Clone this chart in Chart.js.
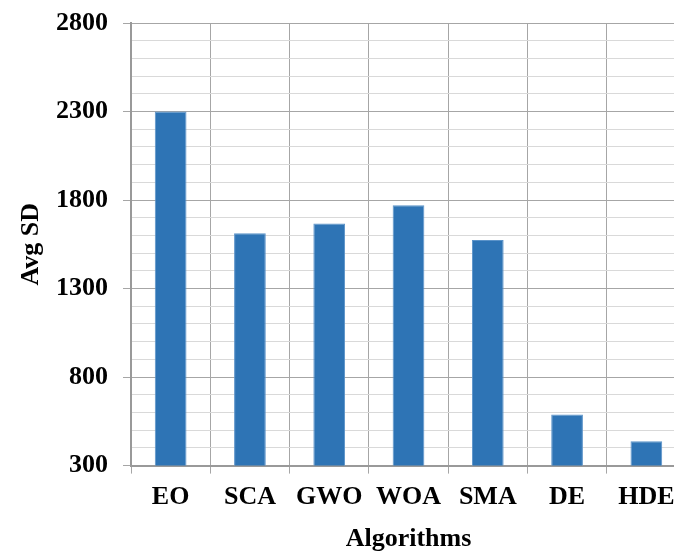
<!DOCTYPE html>
<html>
<head>
<meta charset="utf-8">
<script src="https://cdn.jsdelivr.net/npm/chart.js@4/dist/chart.umd.min.js"></script>
<style>
  html, body { margin: 0; padding: 0; background: #ffffff; overflow: hidden; }
  #wrap { width: 686px; height: 555px; }
</style>
</head>
<body>
<div id="wrap"><canvas id="bar_chart"></canvas></div>
<script>
const categories = ["EO", "SCA", "GWO", "WOA", "SMA", "DE", "HDE"]
const avgSD = [2300, 1612, 1668, 1770, 1574, 588, 437]
const yMin = 300
const yMax = 2800
const yMajorStep = 500
const yMinorStep = 100

const isMajor = (v) => (v - yMin) % yMajorStep === 0

Chart.defaults.font.family = '"Liberation Serif", "Times New Roman", serif'
Chart.defaults.font.weight = "bold"
Chart.defaults.color = "#000000"

new Chart(document.getElementById("bar_chart"), {
  type: "bar",
  data: {
    labels: categories,
    datasets: [
      {
        data: avgSD,
        backgroundColor: "#2E74B5",
        borderColor: "#5B93C9",
        borderWidth: 1,
        categoryPercentage: 1.0,
        barPercentage: 0.4,
      },
    ],
  },
  options: {
    responsive: true,
    maintainAspectRatio: false,
    devicePixelRatio: 1,
    animation: false,
    layout: {
      padding: { left: 12, top: 23, right: 0, bottom: 0 },
    },
    plugins: {
      legend: { display: false },
      tooltip: { enabled: false },
    },
    scales: {
      x: {
        ticks: {
          font: { size: 26 },
          padding: 8,
        },
        grid: {
          color: "#a6a6a6",
          lineWidth: 1,
          tickLength: 8,
        },
        border: { color: "#999999", width: 2 },
        title: {
          display: true,
          text: "Algorithms",
          font: { size: 26 },
          padding: { top: 3, bottom: 0 },
        },
      },
      y: {
        min: yMin,
        max: yMax,
        afterFit: (scale) => {
          scale.width = 119
          scale.paddingTop = 0
        },
        ticks: {
          stepSize: yMinorStep,
          autoSkip: false,
          font: { size: 26 },
          padding: 15,
          callback: (value) => (isMajor(value) ? value : ""),
        },
        grid: {
          color: (ctx) =>
            ctx.tick && isMajor(ctx.tick.value) ? "#a6a6a6" : "#d9d9d9",
          tickColor: (ctx) =>
            ctx.tick && isMajor(ctx.tick.value) ? "#a6a6a6" : "rgba(0,0,0,0)",
          lineWidth: 1,
          tickLength: 8,
        },
        border: { color: "#999999", width: 2 },
        title: {
          display: true,
          text: "Avg SD",
          font: { size: 26 },
          padding: { top: 4, bottom: 6 },
        },
      },
    },
  },
})
</script>
</body>
</html>
